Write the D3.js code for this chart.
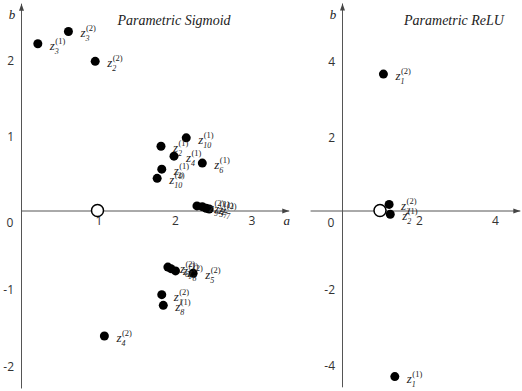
<!DOCTYPE html>
<html>
<head>
<meta charset="utf-8">
<script src="https://cdn.jsdelivr.net/npm/d3@7"></script>
<style>
  body { margin: 0; background: #fff; }
  .tick text { font-family: "Open Sans", "DejaVu Sans", sans-serif; font-size: 12px; fill: #333; }
  .serif { font-family: "Liberation Serif", "DejaVu Serif", serif; font-style: italic; fill: #222; }
</style>
</head>
<body>
<div id="chart"></div>
<script>
// Parametric Sigmoid: (a, b) per neuron
const sigA = [0.22, 0.62, 0.97, 1.83, 2.16, 2.00, 2.37, 1.84, 1.78,
              2.30, 2.37, 2.42, 2.46, 1.92, 1.96, 2.02, 2.25, 1.84, 1.86, 1.09];
const sigB = [2.18, 2.34, 1.95, 0.84, 0.95, 0.71, 0.62, 0.54, 0.42,
              0.06, 0.05, 0.03, 0.02, -0.74, -0.76, -0.79, -0.82, -1.10, -1.24, -1.64];
const sigIdx = ["3", "3", "2", "2", "10", "4", "6", "9", "10",
                "9", "5", "7", "7", "6", "1", "8", "5", "1", "8", "4"];
const sigLayer = [1, 2, 2, 1, 1, 1, 1, 1, 2,
                  2, 1, 1, 2, 2, 1, 2, 2, 2, 1, 2];

// Parametric ReLU
const reluA = [1.09, 1.24, 1.27, 1.39];
const reluB = [3.59, 0.16, -0.10, -4.37];
const reluIdx = ["1", "2", "2", "1"];
const reluLayer = [2, 2, 1, 1];

// reference point (1, 0)
const refA = 1, refB = 0;

const sigXTicks = [1, 2, 3];
const sigYTicks = [-2, -1, 1, 2];
const reluXTicks = [2, 4];
const reluYTicks = [-4, -2, 2, 4];

const W = 522, H = 391;

const svg = d3.select("#chart")
  .append("svg")
    .attr("width", W)
    .attr("height", H);

svg.append("defs").append("marker")
    .attr("id", "arrow")
    .attr("markerUnits", "userSpaceOnUse")
    .attr("markerWidth", 8).attr("markerHeight", 6)
    .attr("refX", 7).attr("refY", 3)
    .attr("orient", "auto")
  .append("path")
    .attr("d", "M0,0.5L7,3L0,5.5Z")
    .attr("fill", "#444");

function panel(cfg) {
  const x = d3.scaleLinear().domain(cfg.xDom).range(cfg.xRange);
  const y = d3.scaleLinear().domain(cfg.yDom).range(cfg.yRange);
  const g = svg.append("g");

  // x axis through origin
  const gx = g.append("g")
    .attr("transform", `translate(0,${y(0)})`)
    .call(d3.axisBottom(x).tickValues(cfg.xTicks).tickSize(0).tickPadding(6).tickFormat(d => String(d)));
  gx.select(".domain").attr("stroke", "#555").attr("marker-end", "url(#arrow)");
  gx.selectAll(".tick text").attr("dx", 1);

  // y axis through origin
  const gy = g.append("g")
    .attr("transform", `translate(${x(0)},0)`)
    .call(d3.axisLeft(y).tickValues(cfg.yTicks).tickSize(0).tickPadding(7).tickFormat(d => String(d)));
  gy.select(".domain").attr("stroke", "#555").attr("marker-end", "url(#arrow)");
  gy.selectAll(".tick text").attr("dy", "0.58em");

  g.append("text")
    .attr("x", x(0) - 11).attr("y", y(0) + 16)
    .attr("text-anchor", "middle")
    .style("font-family", '"Open Sans", sans-serif').style("font-size", "12px").style("fill", "#333")
    .text("0");

  g.append("text").attr("class", "serif")
    .attr("x", x(0) - 9).attr("y", 19)
    .attr("text-anchor", "middle").style("font-size", "13px")
    .text("b");
  if (cfg.showA) {
    g.append("text").attr("class", "serif")
      .attr("x", cfg.xRange[1] - 2).attr("y", y(0) + 14)
      .attr("text-anchor", "middle").style("font-size", "13px")
      .text("a");
  }

  g.append("text").attr("class", "serif")
    .attr("x", cfg.titleX).attr("y", 25)
    .attr("text-anchor", "middle").style("font-size", "14px")
    .text(cfg.title);

  const data = cfg.A.map((a, i) => ({a: a, b: cfg.B[i], k: cfg.idx[i], l: cfg.layer[i]}));

  g.append("circle")
    .attr("cx", x(refA)).attr("cy", y(refB)).attr("r", 6)
    .attr("fill", "#fff").attr("stroke", "#000").attr("stroke-width", 1.5);

  g.append("g")
    .selectAll("circle")
    .data(data)
    .join("circle")
      .attr("cx", d => x(d.a))
      .attr("cy", d => y(d.b))
      .attr("r", 4.5)
      .attr("fill", "#000");

  const lab = g.append("g")
    .selectAll("g")
    .data(data)
    .join("g")
      .attr("transform", d => `translate(${x(d.a) + 12},${y(d.b) + 6})`);
  lab.append("text").attr("class", "serif").style("font-size", "13px").text("z");
  lab.append("text").attr("class", "serif")
    .attr("x", 5).attr("y", 4).style("font-size", "8px").text(d => d.k);
  lab.append("text")
    .attr("x", 5.5).attr("y", -6)
    .style("font-family", '"Liberation Serif", serif').style("font-size", "8.5px").style("fill", "#222")
    .text(d => `(${d.l})`);
}

panel({
  xDom: [0, 3.5], xRange: [21, 21 + 3.5 * 76.5],
  yDom: [-2.32, 2.71], yRange: [210.5 + 2.32 * 76.5, 210.5 - 2.71 * 76.5],
  xTicks: sigXTicks, yTicks: sigYTicks,
  A: sigA, B: sigB, idx: sigIdx, layer: sigLayer,
  title: "Parametric Sigmoid", titleX: 174, showA: true
});

panel({
  xDom: [-0.84, 4.68], xRange: [342 - 0.84 * 38, 342 + 4.68 * 38],
  yDom: [-4.64, 5.46], yRange: [210.5 + 4.64 * 38, 210.5 - 5.46 * 38],
  xTicks: reluXTicks, yTicks: reluYTicks,
  A: reluA, B: reluB, idx: reluIdx, layer: reluLayer,
  title: "Parametric ReLU", titleX: 454, showA: false
});
</script>
</body>
</html>
